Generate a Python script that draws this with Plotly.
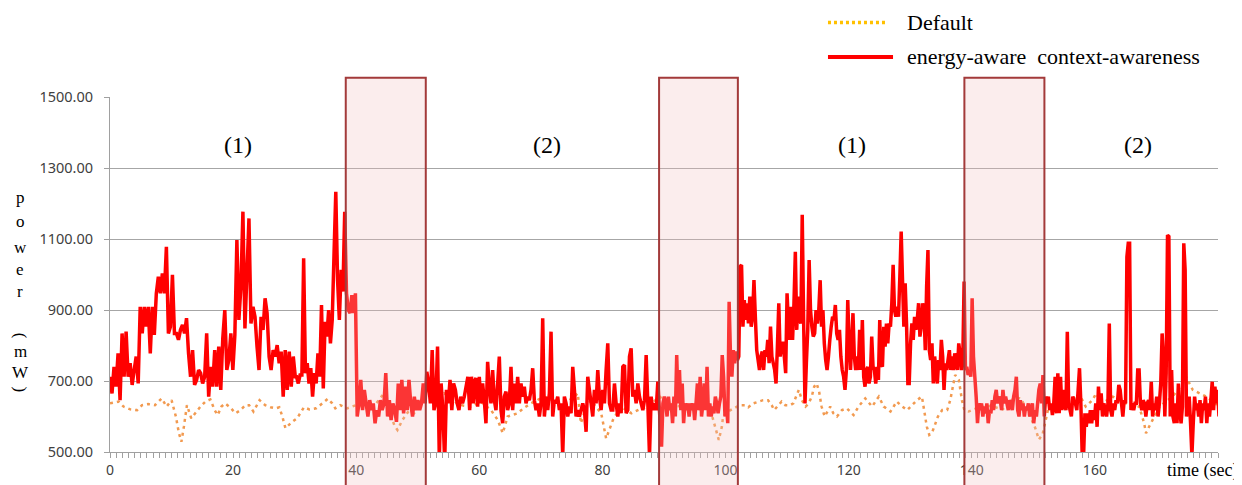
import numpy as np
import plotly.graph_objects as go

# ---------------- data ----------------
# energy-aware context-awareness power (mW), sampled uniformly inside each time span
red_span_start = [0.0, 30.3, 59.45, 89.6, 120.7, 150.9]
red_span_end = [30.1, 59.3, 89.0, 120.3, 150.5, 180.6]

red_seg1 = [712, 665, 740, 684, 778, 646, 834, 712, 839, 712, 750, 689, 731, 769, 693, 909, 834, 909, 853, 909,
            778, 909, 830, 947, 994, 947, 1003, 947, 1078, 834, 853, 999, 834, 834, 816, 844, 858, 834, 877, 778,
            712, 787, 689, 703, 731, 722, 693, 712, 834, 656, 740, 684, 787, 684, 797, 675, 820, 900, 731, 759,
            834, 731, 830, 1097, 872, 966, 1177, 848, 1003, 1158, 862, 909, 881, 797, 731, 881, 844, 933, 891, 769,
            731, 787, 769, 801, 750, 783, 656, 787, 675, 783, 684, 769, 712]
red_seg2 = [712, 693, 717, 717, 1046, 722, 750, 693, 736, 656, 722, 693, 778, 712, 914, 679, 867, 825, 900, 806,
            872, 1055, 1233, 984, 872, 1013, 952, 1177, 947, 900, 891, 942, 891, 947, 600, 637, 703, 618, 675, 637,
            600, 646, 618, 637, 581, 618, 600, 646, 618, 637, 722, 600, 646, 590, 637, 618, 585, 693, 618, 703,
            609, 684, 618, 703, 637, 600, 656, 618, 646, 618, 637, 693, 637, 726, 693, 637, 787, 618, 637, 797,
            480, 693, 618, 470, 675, 637, 703, 618, 693, 675, 637, 618, 656, 637, 656, 684, 712, 618, 712, 637, 703]
red_seg3 = [708, 628, 712, 637, 693, 646, 581, 754, 684, 637, 731, 646, 618, 693, 769, 618, 581, 656, 670, 618,
            637, 740, 618, 693, 637, 712, 637, 693, 656, 684, 637, 656, 646, 675, 736, 646, 618, 637, 600, 637,
            877, 600, 656, 618, 665, 839, 600, 646, 637, 656, 618, 637, 490, 656, 637, 600, 628, 609, 740, 675,
            600, 618, 600, 618, 637, 618, 557, 712, 675, 637, 600, 675, 637, 731, 656, 618, 675, 637, 731, 806,
            637, 618, 618, 693, 637, 600, 637, 609, 740, 745, 609, 618, 769, 792, 656, 675, 637, 693, 656, 637,
            618, 646, 773, 637, 490, 656, 618, 637, 618, 698]
red_seg4 = [515, 637, 656, 637, 600, 656, 618, 637, 581, 656, 600, 773, 637, 731, 618, 693, 581, 637, 618, 637,
            600, 637, 618, 637, 590, 637, 693, 618, 712, 600, 637, 693, 618, 740, 600, 637, 600, 628, 609, 656,
            637, 609, 637, 656, 773, 712, 600, 637, 581, 923, 769, 712, 787, 750, 783, 759, 769, 1022, 1027, 853,
            928, 872, 919, 862, 938, 853, 881, 984, 881, 787, 759, 731, 769, 783, 731, 787, 769, 816, 750, 853,
            769, 750, 731, 693, 797, 919, 769, 806, 806, 769, 722, 947, 862, 816, 909, 816, 919, 1064, 844, 938,
            872, 862, 1168, 872, 637, 750, 844, 1041, 900, 853, 825, 834, 900, 862, 900, 984, 853, 900, 806, 759,
            731, 769, 816, 853, 881, 872, 914, 834, 816, 844, 769, 731, 712, 675, 731, 928, 806, 731]
red_seg5 = [891, 769, 731, 769, 731, 844, 731, 872, 712, 684, 731, 740, 693, 712, 825, 740, 731, 693, 740, 703,
            872, 750, 740, 853, 797, 862, 806, 862, 853, 919, 1027, 900, 881, 909, 881, 994, 1121, 984, 853, 975,
            862, 693, 693, 806, 862, 816, 881, 844, 872, 919, 825, 853, 919, 900, 787, 966, 1069, 787, 759, 806,
            693, 769, 731, 693, 759, 731, 816, 769, 675, 750, 731, 759, 787, 731, 769, 731, 778, 750, 731, 806,
            778, 731, 759, 980, 731, 740, 717, 731, 712, 933, 769, 712, 656, 581, 637, 618, 637, 600, 628, 609,
            637, 581, 618, 609, 646, 618, 656, 675, 637, 656, 646, 618, 675, 637, 656, 637, 618, 646, 637, 618,
            656, 675, 712, 618, 600, 646, 618, 637, 600, 628, 618, 637, 600, 618, 637, 581, 618, 600]
red_seg6 = [675, 693, 637, 717, 600, 656, 637, 656, 618, 637, 604, 637, 712, 609, 722, 609, 712, 618, 675, 637,
            618, 839, 637, 618, 600, 656, 646, 637, 618, 675, 736, 637, 490, 487, 609, 571, 609, 581, 618, 581,
            618, 590, 637, 571, 684, 618, 665, 600, 637, 618, 600, 637, 862, 618, 600, 637, 618, 646, 637, 689,
            675, 637, 600, 646, 637, 1050, 1088, 1088, 618, 637, 618, 637, 637, 731, 731, 637, 618, 646, 637, 600,
            637, 646, 618, 698, 600, 637, 618, 656, 600, 637, 693, 834, 769, 600, 722, 1111, 1107, 600, 731, 600,
            581, 637, 581, 693, 618, 581, 628, 1088, 1013, 600, 637, 656, 581, 490, 581, 656, 618, 637, 600, 646,
            581, 637, 618, 656, 581, 637, 600, 646, 698, 618, 684, 637, 675, 600, 693, 637]
red_segments = [red_seg1, red_seg2, red_seg3, red_seg4, red_seg5, red_seg6]

# Default power (mW)
default_t = [0, 1.4, 2.2, 3.3, 4.4, 5.2, 6.2, 7.3, 8.4, 9.2, 10.0, 10.7, 11.2, 11.6, 12.0, 12.5, 13.2, 13.8, 14.7, 15.5,
             16.3, 17.0, 17.5, 18.1, 18.7, 19.5, 20.4, 21.2, 22.0, 22.6, 23.3, 24.3, 25.2, 26.1, 26.9, 27.5, 28.0, 28.5, 29.0, 29.6,
             30.4, 31.5, 32.4, 33.5, 34.5, 35.4, 36.1, 36.6, 37.4, 38.5, 40.0, 41.2, 42.5, 44.5, 45.5, 46.2, 46.7, 47.5, 48.5, 49.4,
             50.5, 51.5, 53.0, 54.3, 55.5, 56.4, 57.5, 58.6, 60.2, 61.9, 63.0, 63.8, 64.6, 66.2, 67.3, 68.4, 70.5, 72.0, 73.8, 75.0,
             76.0, 76.5, 77.2, 78.1, 79.3, 79.8, 80.6, 81.7, 83.0, 84.7, 86.0, 87.4, 89.3, 90.5, 92.0, 94.0, 96.0, 97.2, 98.0, 98.5,
             98.9, 99.4, 99.6, 100.4, 101.3, 102.3, 103.2, 103.7, 104.5, 105.3, 106.1, 106.9, 107.5, 107.9, 108.6, 109.1, 109.7, 110.5, 111.0, 111.6,
             111.9, 112.4, 113.0, 113.5, 114.0, 114.4, 114.8, 115.2, 115.6, 116.1, 116.6, 117.0, 117.5, 118.1, 118.9, 119.7, 120.8, 121.6, 122.7, 123.8,
             124.9, 125.7, 126.8, 127.8, 128.7, 129.5, 130.3, 131.1, 131.9, 132.3, 132.7, 133.1, 133.5, 133.9, 134.5, 135.2, 136.0, 136.5, 137.0, 137.3,
             137.9, 138.4, 138.8, 139.5, 141, 143, 145, 147, 148, 149.5, 150.3, 150.9, 151.5, 152.5, 154.7, 156.3, 157.4, 158.5, 159.6, 160.2,
             161.2, 162.9, 165, 167.2, 168, 168.3, 168.8, 170.5, 172.6, 174.3, 174.8, 175.9, 178.1, 180.2]
default_v = [637, 642, 628, 620, 618, 632, 635, 632, 651, 628, 646, 600, 553, 529, 571, 632, 595, 609, 628, 642,
             648, 618, 604, 628, 637, 626, 609, 618, 632, 632, 614, 646, 632, 626, 623, 626, 600, 567, 576, 585,
             595, 626, 620, 623, 637, 650, 637, 623, 632, 623, 632, 628, 620, 665, 610, 575, 562, 590, 615, 609,
             640, 675, 640, 665, 650, 637, 630, 628, 642, 618, 590, 553, 600, 609, 625, 637, 656, 645, 637, 650,
             665, 581, 620, 646, 620, 609, 538, 590, 628, 609, 620, 628, 656, 640, 630, 625, 620, 640, 590, 562,
             534, 571, 600, 614, 623, 632, 632, 626, 637, 642, 646, 646, 632, 618, 632, 642, 632, 632, 637, 665,
             675, 646, 628, 637, 656, 684, 693, 670, 628, 600, 618, 628, 609, 600, 618, 623, 604, 628, 651, 628,
             656, 628, 614, 642, 628, 618, 632, 646, 656, 618, 571, 548, 553, 571, 600, 618, 618, 646, 693, 717,
             703, 646, 618, 614, 625, 630, 620, 655, 650, 600, 568, 535, 550, 628, 656, 646, 665, 628, 646, 665,
             637, 656, 637, 628, 581, 553, 571, 628, 656, 693, 712, 675, 656, 628]

series_names = ["Default", "energy-aware\u00a0 context-awareness"]

# highlighted periods (sec) and phase labels
box_start = [38.3, 89.2, 138.8]
box_end = [51.3, 102.0, 151.8]
phase_labels = ["(1)", "(2)", "(1)", "(2)"]
phase_x = [20.8, 71.0, 120.5, 167.0]
phase_y = [1365, 1365, 1365, 1365]

x_ticks = [0, 20, 40, 60, 80, 100, 120, 140, 160]
y_ticks = [500, 700, 900, 1100, 1300, 1500]

# ---------------- build ----------------
red_t = np.concatenate([np.linspace(a, b, len(s)) for a, b, s in zip(red_span_start, red_span_end, red_segments)])
red_v = np.concatenate([np.array(s, dtype=float) for s in red_segments])

SERIF = "Liberation Serif, Times New Roman, serif"
SANS = "Noto Sans, Open Sans, sans-serif"
DEFAULT_PLOT_COLOR = "#F29A50"
DEFAULT_LEGEND_COLOR = "#FFC000"
RED = "#FF0000"

fig = go.Figure()
fig.add_trace(go.Scatter(x=default_t, y=default_v, mode="lines", name=series_names[0], showlegend=False,
                         hoverinfo="skip", line=dict(color=DEFAULT_PLOT_COLOR, width=2.5, dash="3px,4px")))
fig.add_trace(go.Scatter(x=red_t, y=red_v, mode="lines", name=series_names[1], showlegend=False,
                         line=dict(color=RED, width=3.5, simplify=False)))

shapes = []
for a, b in zip(box_start, box_end):
    shapes.append(dict(type="rect", xref="x", yref="paper", x0=a, x1=b, y0=-0.2, y1=1.054,
                       fillcolor="rgba(240,190,190,0.28)", line=dict(color="#A33A3A", width=2), layer="above"))

# legend drawn in the top margin (sample line + label)
leg_rows_y = [1.2099, 1.1127]
leg_styles = [dict(color=DEFAULT_LEGEND_COLOR, width=3.5, dash="3px,3px"), dict(color=RED, width=4)]
leg_x1 = [0.702, 0.7067]
for yy, st, x1 in zip(leg_rows_y, leg_styles, leg_x1):
    shapes.append(dict(type="line", xref="paper", yref="paper", x0=0.648, x1=x1, y0=yy, y1=yy, line=st))

annotations = []
for name, yy in zip(series_names, leg_rows_y):
    annotations.append(dict(x=0.7175, y=yy, xref="paper", yref="paper", text=name, showarrow=False,
                            xanchor="left", yanchor="middle", font=dict(family=SERIF, size=22, color="#000000")))

for lab, xx, yy in zip(phase_labels, phase_x, phase_y):
    annotations.append(dict(x=xx, y=yy, xref="x", yref="y", text=lab, showarrow=False,
                            font=dict(family=SERIF, size=24, color="#000000")))

title_chars = ["p", "o", "w", "e", "r", "(", "m", "W", ")"]
title_y = [0.718, 0.648, 0.577, 0.513, 0.451, 0.327, 0.282, 0.225, 0.175]
for ch, yy in zip(title_chars, title_y):
    annotations.append(dict(x=-0.081, y=yy, xref="paper", yref="paper", text=ch, showarrow=False,
                            textangle=90 if ch in "()" else 0, xanchor="center", yanchor="middle",
                            font=dict(family=SERIF, size=17, color="#000000")))

annotations.append(dict(x=1.0195, y=-0.052, xref="paper", yref="paper", text="time (sec)", showarrow=False,
                        xanchor="right", yanchor="middle", font=dict(family=SERIF, size=18, color="#000000")))

# the page body adds an 8px offset, so the figure is 8px smaller than the window on each side
fig.update_layout(
    width=1234, height=477,
    margin=dict(l=102, r=24, t=89, b=33, autoexpand=False),
    paper_bgcolor="white", plot_bgcolor="white",
    shapes=shapes, annotations=annotations, showlegend=False,
    xaxis=dict(range=[0, 180], tickvals=x_ticks, showgrid=False, zeroline=False, automargin=False,
               showline=True, linecolor="#A0A0A0", linewidth=1,
               ticks="outside", ticklen=5, tickcolor="#A0A0A0",
               minor=dict(dtick=1, ticks="outside", ticklen=5, tickcolor="#A0A0A0", showgrid=False),
               tickfont=dict(family=SANS, size=14, color="#404040")),
    yaxis=dict(range=[500, 1500], tickvals=y_ticks, tickformat=".2f", showgrid=True, gridcolor="#A6A6A6",
               gridwidth=1, zeroline=False, showline=True, linecolor="#A0A0A0", linewidth=1, automargin=False,
               ticks="outside", ticklen=5, tickcolor="#A0A0A0", ticklabelstandoff=8,
               tickfont=dict(family=SANS, size=14.5, color="#404040")),
)

fig.write_html("out.html")
